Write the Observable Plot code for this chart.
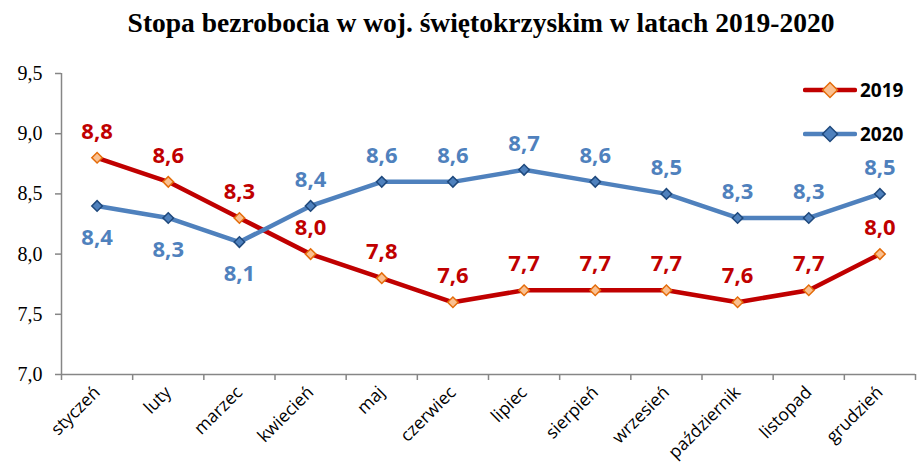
<!DOCTYPE html>
<html>
<head>
<meta charset="utf-8">
<script src="https://cdn.jsdelivr.net/npm/d3@7"></script>
<script src="https://cdn.jsdelivr.net/npm/@observablehq/plot@0.6"></script>
<style>
  html, body { margin: 0; padding: 0; background: #fff; }
  #wrap { position: relative; width: 919px; height: 466px; overflow: hidden; }
  #title { height: 45px; line-height: 45px; padding-left: 43px; width: 876px; text-align: center;
    font-family: "Liberation Serif", "Times New Roman", serif; font-weight: bold; font-size: 27.5px; color: #000; }
  .leg { position: absolute; left: 803px; height: 24px; display: flex; align-items: center;
    font-family: "Open Sans", sans-serif; font-weight: bold; font-size: 19px; color: #000; }
  .leg svg { display: block; margin-right: 3px; }
</style>
</head>
<body>
<div id="wrap">
  <div id="title">Stopa bezrobocia w woj. świętokrzyskim w latach 2019-2020</div>
  <div id="chart"></div>
  <div id="legend"></div>
</div>
<script>
const months = ["styczeń","luty","marzec","kwiecień","maj","czerwiec","lipiec","sierpień","wrzesień","październik","listopad","grudzień"];
const v2019 = [8.8, 8.6, 8.3, 8.0, 7.8, 7.6, 7.7, 7.7, 7.7, 7.6, 7.7, 8.0];
const v2020 = [8.4, 8.3, 8.1, 8.4, 8.6, 8.6, 8.7, 8.6, 8.5, 8.3, 8.3, 8.5];
const labelPos2019 = ["above","above","above","above","above","above","above","above","above","above","above","above"];
const labelPos2020 = ["below","below","below","above","above","above","above","above","above","above","above","above"];
const yTicks = [7.0, 7.5, 8.0, 8.5, 9.0, 9.5];
const seriesNames = ["2019", "2020"];

const colors = {
  "2019": {line: "#C00000", fill: "#FAC090", stroke: "#E46C0A", label: "#C00000"},
  "2020": {line: "#4F81BD", fill: "#4F81BD", stroke: "#1F497D", label: "#4F81BD"}
};

const rows = [];
months.forEach((m, i) => {
  rows.push({series: "2019", x: i + 0.5, month: m, value: v2019[i], pos: labelPos2019[i]});
});
months.forEach((m, i) => {
  rows.push({series: "2020", x: i + 0.5, month: m, value: v2020[i], pos: labelPos2020[i]});
});
const fmt = v => v.toFixed(1).replace(".", ",");
const gray = "#868686";

const marks = [
  Plot.ruleX([0], {stroke: gray, strokeWidth: 1.5}),
  Plot.ruleY([7], {stroke: gray, strokeWidth: 1.5}),
  Plot.axisX(d3.range(13), {tickSize: 6, tickFormat: () => "", stroke: gray, strokeWidth: 1.5, label: null}),
  Plot.axisX(months.map((m, i) => i + 0.5), {tickSize: 0, tickPadding: 15, tickRotate: -45, label: null,
    tickFormat: d => months[Math.floor(d)], fontSize: 17.5, fill: "#000", fontFamily: "Open Sans"}),
  Plot.axisY(yTicks, {tickSize: 6, tickPadding: 13, stroke: gray, strokeWidth: 1.5, tickFormat: fmt, label: null,
    fontSize: 20, fill: "#000", fontFamily: "Liberation Serif"})
];

for (const s of seriesNames) {
  const data = rows.filter(d => d.series === s);
  const c = colors[s];
  marks.push(
    Plot.line(data, {x: "x", y: "value", stroke: c.line, strokeWidth: 4.5, strokeLinejoin: "round"}),
    Plot.dot(data, {x: "x", y: "value", symbol: "square", r: 4.2, rotate: 45, fill: c.fill, stroke: c.stroke, strokeWidth: 1.5}),
    Plot.text(data.filter(d => d.pos === "above"), {x: "x", y: "value", text: d => fmt(d.value), dy: -26,
      fill: c.label, fontSize: 22, fontWeight: "bold", fontFamily: "Open Sans"}),
    Plot.text(data.filter(d => d.pos === "below"), {x: "x", y: "value", text: d => fmt(d.value), dy: 32,
      fill: c.label, fontSize: 22, fontWeight: "bold", fontFamily: "Open Sans"})
  );
}

const chart = Plot.plot({
  width: 919,
  height: 421,
  marginTop: 28,
  marginBottom: 92,
  marginLeft: 61,
  marginRight: 4,
  x: {domain: [0, 12], axis: null},
  y: {domain: [7, 9.5], axis: null},
  style: {fontFamily: "Open Sans", background: "#fff"},
  marks
});
document.getElementById("chart").appendChild(chart);

// Legend
const legend = document.getElementById("legend");
const legTops = {"2019": 78, "2020": 122};
for (const s of seriesNames) {
  const c = colors[s];
  const div = document.createElement("div");
  div.className = "leg";
  div.style.top = legTops[s] + "px";
  div.innerHTML = `<svg width="54" height="24"><line x1="2" y1="12" x2="52" y2="12" stroke="${c.line}" stroke-width="4.5" stroke-linecap="round"/>` +
    `<rect x="-5.3" y="-5.3" width="10.6" height="10.6" transform="translate(27,12) rotate(45)" fill="${c.fill}" stroke="${c.stroke}" stroke-width="1.5"/></svg><span>${s}</span>`;
  legend.appendChild(div);
}
</script>
</body>
</html>
